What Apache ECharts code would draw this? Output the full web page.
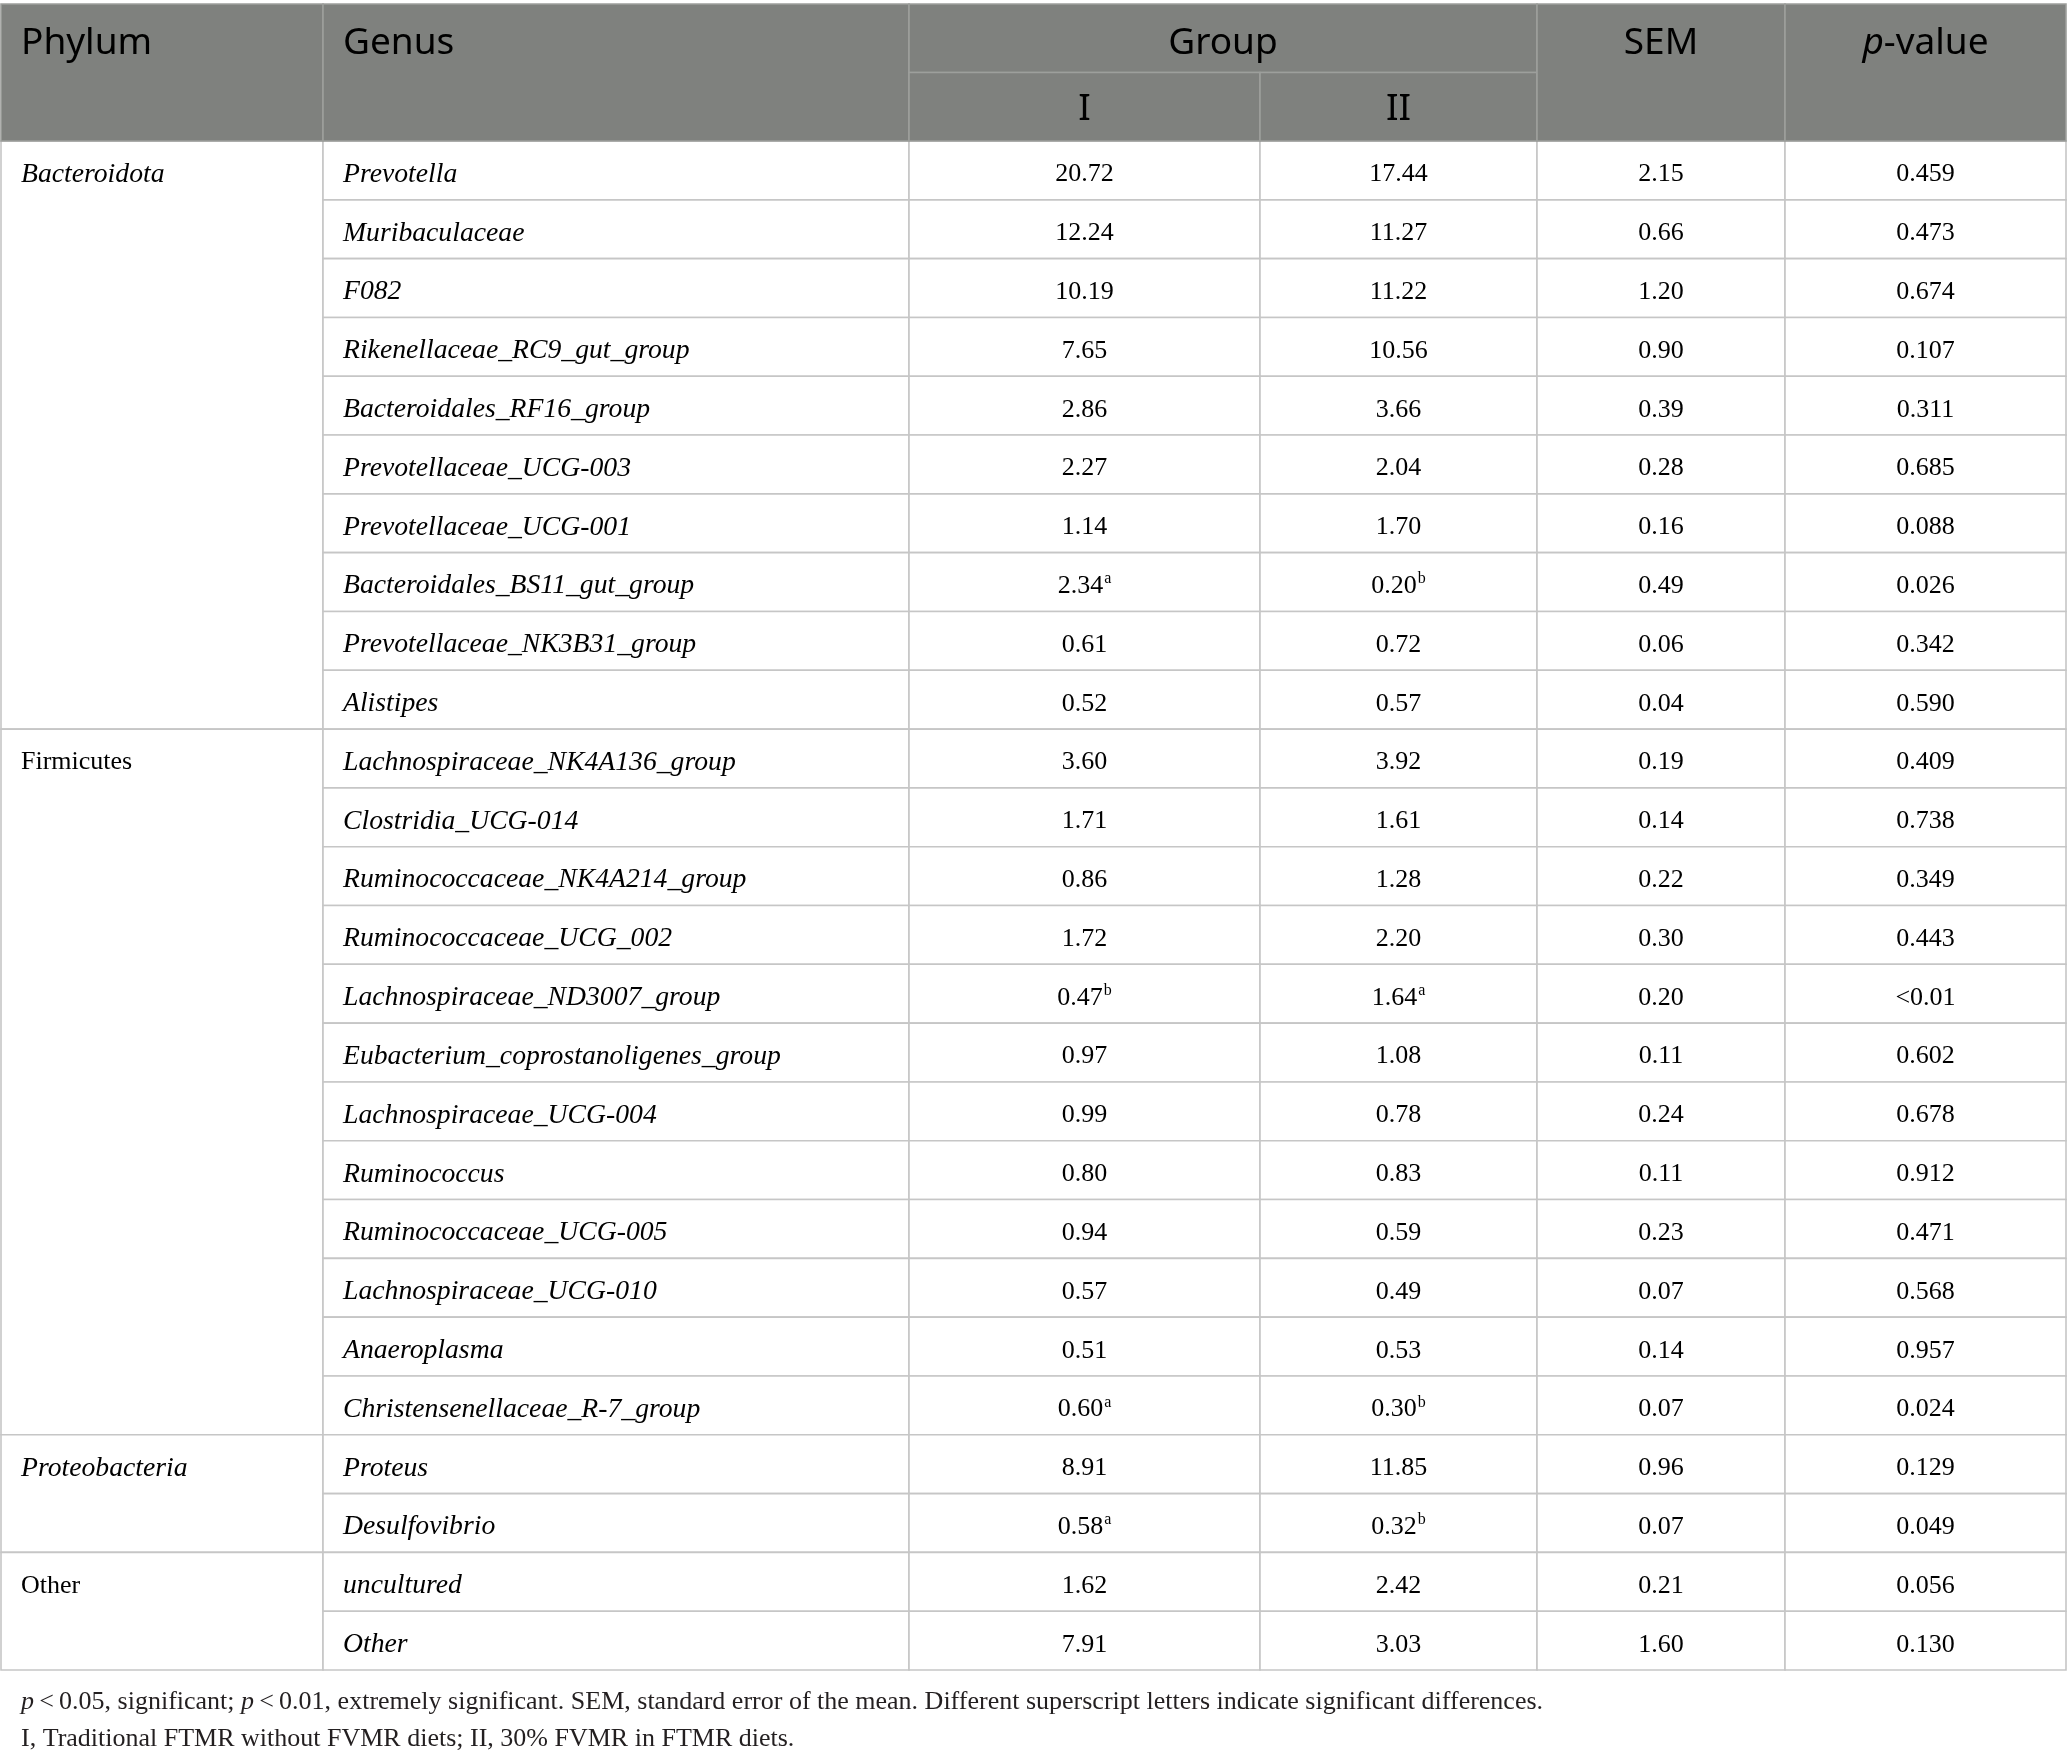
<!DOCTYPE html>
<html>
<head>
<meta charset="utf-8">
<script src="https://cdn.jsdelivr.net/npm/echarts@6/dist/echarts.min.js"></script>
<style>
  html, body { margin: 0; padding: 0; background: #fff; }
  #main { width: 2067px; height: 1760px; }
</style>
</head>
<body>
<div id="main"></div>
<script>
// 表格数据
var phyla = ['Bacteroidota', 'Firmicutes', 'Proteobacteria', 'Other'];
var phylumItalic = [true, false, true, false];
var phylumSpan = [10, 12, 2, 2];
var genera = [
  'Prevotella', 'Muribaculaceae', 'F082', 'Rikenellaceae_RC9_gut_group',
  'Bacteroidales_RF16_group', 'Prevotellaceae_UCG-003', 'Prevotellaceae_UCG-001',
  'Bacteroidales_BS11_gut_group', 'Prevotellaceae_NK3B31_group', 'Alistipes',
  'Lachnospiraceae_NK4A136_group', 'Clostridia_UCG-014', 'Ruminococcaceae_NK4A214_group',
  'Ruminococcaceae_UCG_002', 'Lachnospiraceae_ND3007_group', 'Eubacterium_coprostanoligenes_group',
  'Lachnospiraceae_UCG-004', 'Ruminococcus', 'Ruminococcaceae_UCG-005',
  'Lachnospiraceae_UCG-010', 'Anaeroplasma', 'Christensenellaceae_R-7_group',
  'Proteus', 'Desulfovibrio', 'uncultured', 'Other'
];
var groupI = [20.72, 12.24, 10.19, 7.65, 2.86, 2.27, 1.14, 2.34, 0.61, 0.52,
  3.60, 1.71, 0.86, 1.72, 0.47, 0.97, 0.99, 0.80, 0.94, 0.57, 0.51, 0.60,
  8.91, 0.58, 1.62, 7.91];
var groupII = [17.44, 11.27, 11.22, 10.56, 3.66, 2.04, 1.70, 0.20, 0.72, 0.57,
  3.92, 1.61, 1.28, 2.20, 1.64, 1.08, 0.78, 0.83, 0.59, 0.49, 0.53, 0.30,
  11.85, 0.32, 2.42, 3.03];
var supI  = ['', '', '', '', '', '', '', 'a', '', '', '', '', '', '', 'b', '', '', '', '', '', '', 'a', '', 'a', '', ''];
var supII = ['', '', '', '', '', '', '', 'b', '', '', '', '', '', '', 'a', '', '', '', '', '', '', 'b', '', 'b', '', ''];
var sem = [2.15, 0.66, 1.20, 0.90, 0.39, 0.28, 0.16, 0.49, 0.06, 0.04,
  0.19, 0.14, 0.22, 0.30, 0.20, 0.11, 0.24, 0.11, 0.23, 0.07, 0.14, 0.07,
  0.96, 0.07, 0.21, 1.60];
var pValue = ['0.459', '0.473', '0.674', '0.107', '0.311', '0.685', '0.088', '0.026', '0.342', '0.590',
  '0.409', '0.738', '0.349', '0.443', '<0.01', '0.602', '0.678', '0.912', '0.471', '0.568', '0.957', '0.024',
  '0.129', '0.049', '0.056', '0.130'];
var footnotes = [
  '{i|p}\u2009<\u20090.05, significant; {i|p}\u2009<\u20090.01, extremely significant. SEM, standard error of the mean. Different superscript letters indicate significant differences.',
  'I, Traditional FTMR without FVMR diets; II, 30% FVMR in FTMR diets.'
];

// 版式
var colEdges = [1, 323, 909, 1260, 1537, 1785, 2066];
var HEAD = 2.33;          // 表头高度（行单位）
var nRows = genera.length;
var headBg = '#7f817e', headLine = '#9d9f9c', bodyLine = '#c6c6c6';
var serif = '"Liberation Serif", "DejaVu Serif", serif';
var sans = '"Noto Sans", "Open Sans", sans-serif';

var cells = [];
function addCell(c0, c1, y0, y1, text, opt) {
  opt = opt || {};
  var x0 = colEdges[c0], x1 = colEdges[c1];
  cells.push({
    x0: x0, x1: x1, y0: y0, y1: y1,
    tx: opt.align === 'left' ? x0 + 20 : (x0 + x1) / 2,
    ty: opt.ty !== undefined ? opt.ty : (y0 + y1) / 2 + 0.07,
    text: text, align: opt.align || 'center', head: !!opt.head
  });
}

// 表头
var headTop = -HEAD * 0.75 + 0.09;
addCell(0, 1, -HEAD, 0, '{h|Phylum}', { head: true, align: 'left', ty: headTop });
addCell(1, 2, -HEAD, 0, '{h|Genus}', { head: true, align: 'left', ty: headTop });
addCell(2, 4, -HEAD, -HEAD / 2, '{h|Group}', { head: true, ty: headTop });
addCell(2, 3, -HEAD / 2, 0, '{h|I}', { head: true, ty: -HEAD / 4 + 0.05 });
addCell(3, 4, -HEAD / 2, 0, '{h|II}', { head: true, ty: -HEAD / 4 + 0.05 });
addCell(4, 5, -HEAD, 0, '{h|SEM}', { head: true, ty: headTop });
addCell(5, 6, -HEAD, 0, '{hi|p}{h|-value}', { head: true, ty: headTop });

// 门（合并单元格）
var r = 0;
phyla.forEach(function (name, k) {
  addCell(0, 1, r, r + phylumSpan[k], (phylumItalic[k] ? '{it|' : '{n|') + name + '}', { align: 'left', ty: r + 0.57 });
  r += phylumSpan[k];
});

function num(v, s) {
  return '{n|' + v.toFixed(2) + '}' + (s ? '{sup|' + s + '}' : '');
}
genera.forEach(function (g, i) {
  addCell(1, 2, i, i + 1, '{it|' + g + '}', { align: 'left' });
  addCell(2, 3, i, i + 1, num(groupI[i], supI[i]));
  addCell(3, 4, i, i + 1, num(groupII[i], supII[i]));
  addCell(4, 5, i, i + 1, num(sem[i]));
  addCell(5, 6, i, i + 1, '{n|' + pValue[i] + '}');
});

var rich = {
  h: { fontFamily: sans, fontSize: 37, color: '#fff', lineHeight: 44 },
  hi: { fontFamily: sans, fontSize: 37, fontStyle: 'italic', color: '#fff', lineHeight: 44 },
  n: { fontFamily: serif, fontSize: 26, color: '#231f20', lineHeight: 30 },
  it: { fontFamily: serif, fontSize: 27.7, fontStyle: 'italic', color: '#231f20', lineHeight: 30 },
  sup: { fontFamily: serif, fontSize: 16, color: '#231f20', lineHeight: 30, verticalAlign: 'top', padding: [0, 0, 0, 1] }
};

function renderCell(params, api) {
  var c = cells[params.dataIndex];
  var p0 = api.coord([c.x0, c.y0]);
  var p1 = api.coord([c.x1, c.y1]);
  var tp = api.coord([c.tx, c.ty]);
  return {
    type: 'group',
    children: [{
      type: 'rect',
      shape: { x: p0[0], y: p0[1], width: p1[0] - p0[0], height: p1[1] - p0[1] },
      style: { fill: c.head ? headBg : '#fff', stroke: c.head ? headLine : bodyLine, lineWidth: 1.6 },
      z2: c.head ? 2 : 1
    }, {
      type: 'text',
      x: tp[0], y: tp[1],
      style: { text: c.text, rich: rich, align: c.align, verticalAlign: 'middle' },
      z2: 5
    }]
  };
}

var myChart = echarts.init(document.getElementById('main'));
var option = {
  animation: false,
  grid: { left: 0, right: 0, top: 4, height: 1666 },
  xAxis: { type: 'value', min: 0, max: 2067, show: false },
  yAxis: { type: 'value', min: -HEAD, max: nRows, inverse: true, show: false },
  title: footnotes.map(function (t, k) {
    return {
      text: t, left: 21, top: 1689 + k * 37, padding: 0,
      textStyle: {
        fontFamily: serif, fontSize: 26, fontWeight: 'normal', color: '#231f20',
        rich: {
          i: { fontFamily: serif, fontSize: 26, fontStyle: 'italic', color: '#231f20' }
        }
      }
    };
  }),
  series: [{
    type: 'custom',
    renderItem: renderCell,
    clip: false,
    encode: { x: [0, 2], y: [1, 3] },
    data: cells.map(function (c) { return [c.x0, c.y0, c.x1, c.y1]; })
  }]
};
myChart.setOption(option);
</script>
</body>
</html>
